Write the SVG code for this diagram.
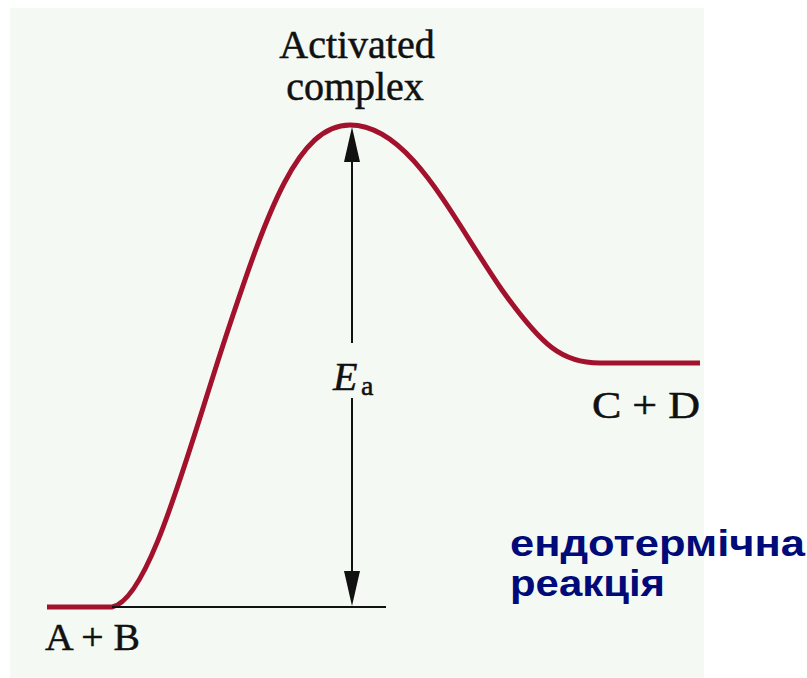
<svg xmlns="http://www.w3.org/2000/svg" width="807" height="678" viewBox="0 0 807 678">
<style>
.lbl{font-family:"Liberation Serif","Times New Roman",serif;fill:#111;stroke:#111;stroke-width:0.5;}
.blue{font-family:"Liberation Sans",Arial,sans-serif;font-weight:bold;fill:#000a78;font-size:37px;}
</style>
<rect x="0" y="0" width="807" height="678" fill="#ffffff"/>
<rect x="10" y="8" width="694" height="670" fill="#f4faf3"/>
<g id="curve">
<path d="M47,607 L112,607 C150,600 188,450 228,330 C268,210 298,125 350,125 C410,125 452,218 502,290 C542,346 562,363 600,363 L700,363" fill="none" stroke="#a3122c" stroke-width="5"/>
</g>
<g id="connectors">
<line x1="112" y1="607" x2="386" y2="607" stroke="#111" stroke-width="2"/>
<polygon points="352,127 360,162 344,162" fill="#111"/>
<polygon points="352,606 360,571 344,571" fill="#111"/>
<line x1="352" y1="160" x2="352" y2="343" stroke="#111" stroke-width="2"/>
<line x1="352" y1="398" x2="352" y2="573" stroke="#111" stroke-width="2"/>
</g>
<g id="activated">
<text class="lbl" x="357" y="58" font-size="40" text-anchor="middle">Activated</text>
<text class="lbl" x="355" y="100" font-size="40" text-anchor="middle">complex</text>
</g>
<g id="ea">
<text class="lbl" x="333" y="390" font-size="40" font-style="italic">E</text>
<text class="lbl" x="361" y="395" font-size="28">a</text>
</g>
<g id="cd">
<text class="lbl" x="592" y="418" font-size="38" textLength="108" lengthAdjust="spacingAndGlyphs">C + D</text>
</g>
<g id="ab">
<text class="lbl" x="45" y="650" font-size="38" textLength="95" lengthAdjust="spacingAndGlyphs">A + B</text>
</g>
<g id="label">
<text class="blue" x="510" y="556" textLength="295" lengthAdjust="spacingAndGlyphs">ендотермічна</text>
<text class="blue" x="510" y="596" textLength="155" lengthAdjust="spacingAndGlyphs">реакція</text>
</g>
</svg>
